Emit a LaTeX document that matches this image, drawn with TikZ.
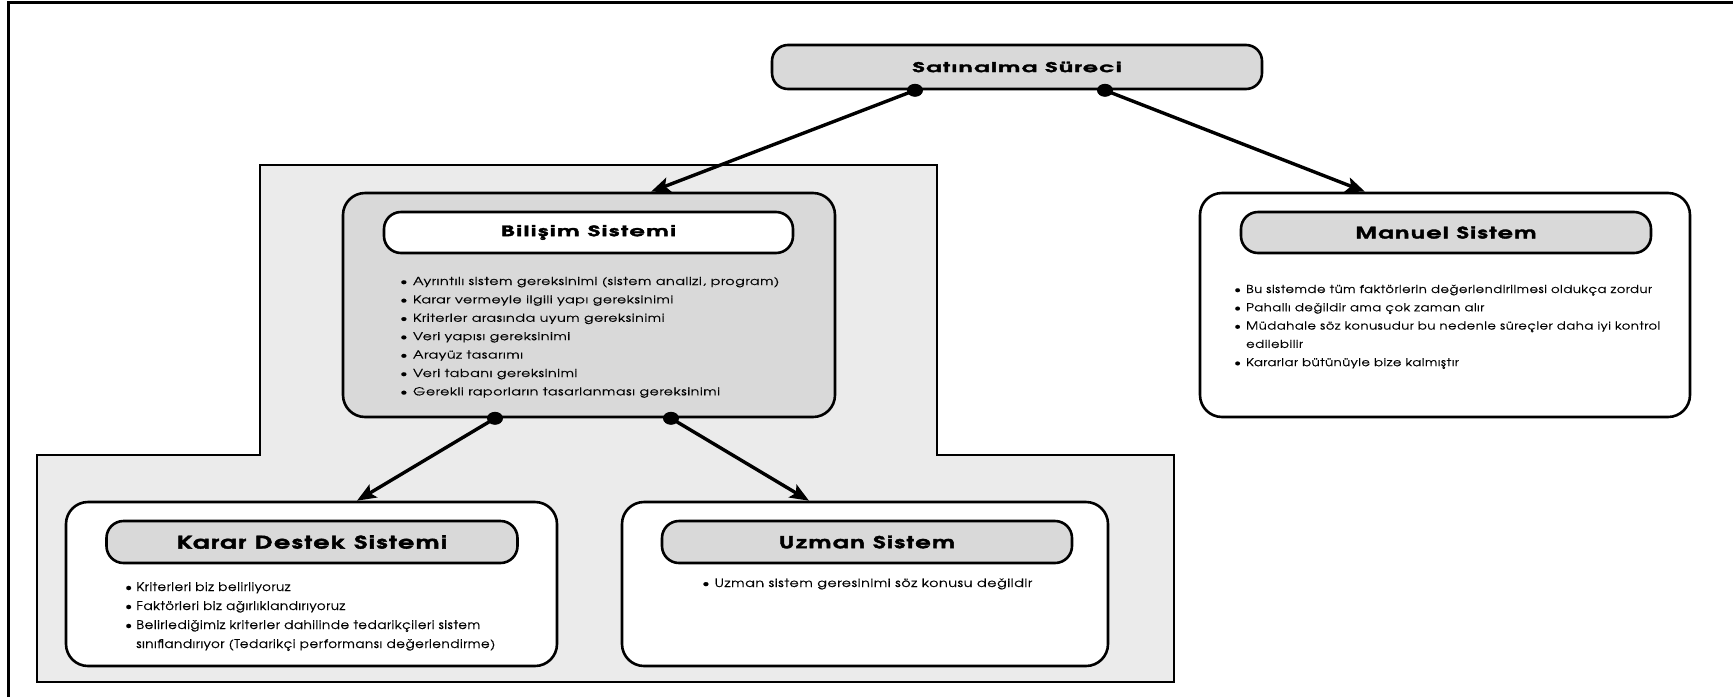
\documentclass[tikz,border=0pt]{standalone}
\usepackage{graphicx}
\usepackage{fontspec}
\setmainfont{TeX Gyre Adventor}
\newfontfamily\bodyfam{TeX Gyre Adventor}[LetterSpace=4, FakeBold=0.4]
\newfontfamily\titlefam{TeX Gyre Adventor}[LetterSpace=6, FakeBold=2]
\usetikzlibrary{arrows.meta,calc}

\definecolor{panel}{HTML}{EBEBEB}
\definecolor{boxgray}{HTML}{D9D9D9}

% text set to a given width, height unchanged
\newcommand\fitw[2]{\resizebox{#1}{\height}{#2}}
\newcommand\ttl[1]{\titlefam\bfseries\fontsize{#1}{#1}\selectfont}
\newcommand\bodysize[2]{\bodyfam\fontsize{#1}{#2}\selectfont}
\newcommand\bul{\makebox[10pt][l]{\textbullet}}
\newcommand\cont{\hspace*{10pt}}

\tikzset{
  outerbox/.style={draw, line width=2.6pt, rounded corners=22pt, inner sep=0pt},
  titlebox/.style={draw, line width=2.6pt, rounded corners=17pt, inner sep=0pt},
  conn/.style={line width=3.4pt, -{Stealth[length=19pt,width=15pt,inset=4pt]}},
  listtext/.style={anchor=base west, inner sep=0pt}
}

\begin{document}
\begin{tikzpicture}[x=1pt, y=-1pt]
\useasboundingbox (0,0) rectangle (1733,697);

% page frame
\draw[line width=3pt] (8.5,697) -- (8.5,2) -- (1733,2);

% shaded panel behind the computer-based systems
\draw[line width=2.6pt, fill=panel]
  (37,682) -- (37,455) -- (260,455) -- (260,165) -- (937,165)
  -- (937,455) -- (1174,455) -- (1174,682) -- cycle;

% top process node
\node[titlebox, fill=boxgray, rounded corners=16pt, minimum width=490pt,
      minimum height=44pt, font=\ttl{13.5}]
  (sat) at (1017,67) {\fitw{209pt}{Satınalma Süreci}};

% information system
\node[outerbox, fill=boxgray, minimum width=492pt, minimum height=224pt]
  (bil) at (589,305) {};
\node[titlebox, fill=white, minimum width=409pt, minimum height=41pt,
      font=\ttl{14.5}]
  (bilt) at (588.5,232.5) {\fitw{175pt}{Bilişim Sistemi}};
\node[listtext, font=\bodysize{11}{18.4}] (bill) at (400,285)
 {\fitw{379pt}{\begin{tabular}[t]{@{}l@{}}
\bul Ayrıntılı sistem gereksinimi (sistem analizi, program)\\
\bul Karar vermeyle ilgili yapı gereksinimi\\
\bul Kriterler arasında uyum gereksinimi\\
\bul Veri yapısı gereksinimi\\
\bul Arayüz tasarımı\\
\bul Veri tabanı gereksinimi\\
\bul Gerekli raporların tasarlanması gereksinimi
\end{tabular}}};

% manual system
\node[outerbox, fill=white, minimum width=490pt, minimum height=224pt]
  (man) at (1445,305) {};
\node[titlebox, fill=boxgray, minimum width=410pt, minimum height=41pt,
      font=\ttl{16}]
  (mant) at (1446,232.5) {\fitw{181pt}{Manuel Sistem}};
\node[listtext, font=\bodysize{11}{18.3}] (manl) at (1234,293)
 {\fitw{426pt}{\begin{tabular}[t]{@{}l@{}}
\bul Bu sistemde tüm faktörlerin değerlendirilmesi oldukça zordur\\
\bul Pahallı değildir ama çok zaman alır\\
\bul Müdahale söz konusudur bu nedenle süreçler daha iyi kontrol\\
\cont edilebilir\\
\bul Kararlar bütünüyle bize kalmıştır
\end{tabular}}};

% decision support system
\node[outerbox, fill=white, minimum width=491pt, minimum height=164pt]
  (kds) at (311.5,584) {};
\node[titlebox, fill=boxgray, minimum width=411pt, minimum height=42pt,
      font=\ttl{17.5}]
  (kdst) at (312,542) {\fitw{270pt}{Karar Destek Sistemi}};
\node[listtext, font=\bodysize{12}{19}] (kdsl) at (125,591)
 {\fitw{370pt}{\begin{tabular}[t]{@{}l@{}}
\bul Kriterleri biz belirliyoruz\\
\bul Faktörleri biz ağırlıklandırıyoruz\\
\bul Belirlediğimiz kriterler dahilinde tedarikçileri sistem\\
\cont sınıflandırıyor (Tedarikçi performansı değerlendirme)
\end{tabular}}};

% expert system
\node[outerbox, fill=white, minimum width=486pt, minimum height=164pt]
  (uzm) at (865,584) {};
\node[titlebox, fill=boxgray, minimum width=410pt, minimum height=42pt,
      font=\ttl{16.5}]
  (uzmt) at (867,542) {\fitw{176pt}{Uzman Sistem}};
\node[listtext, font=\bodysize{11.5}{18.4}] (uzml) at (702,587)
 {\fitw{330pt}{\begin{tabular}[t]{@{}l@{}}
\bul Uzman sistem geresinimi söz konusu değildir
\end{tabular}}};

% connector end points
\coordinate (s1) at ([xshift=-102pt]sat.south);
\coordinate (s2) at ([xshift=88pt]sat.south);
\coordinate (bilin) at ([xshift=62pt]bil.north);
\coordinate (manin) at ([xshift=-80pt]man.north);
\coordinate (b1) at ([xshift=-94pt]bil.south);
\coordinate (b2) at ([xshift=82pt]bil.south);
\coordinate (kdsin) at ([xshift=45.5pt]kds.north);
\coordinate (uzmin) at ([xshift=-56pt]uzm.north);

% connectors
\draw[conn] (s1) -- (bilin);
\draw[conn] (s2) -- (manin);
\draw[conn] (b1) -- (kdsin);
\draw[conn] (b2) -- (uzmin);

% joints
\foreach \p in {s1,s2,b1,b2}
  \fill (\p) ellipse [x radius=8pt, y radius=6.5pt];
\end{tikzpicture}
\end{document}
